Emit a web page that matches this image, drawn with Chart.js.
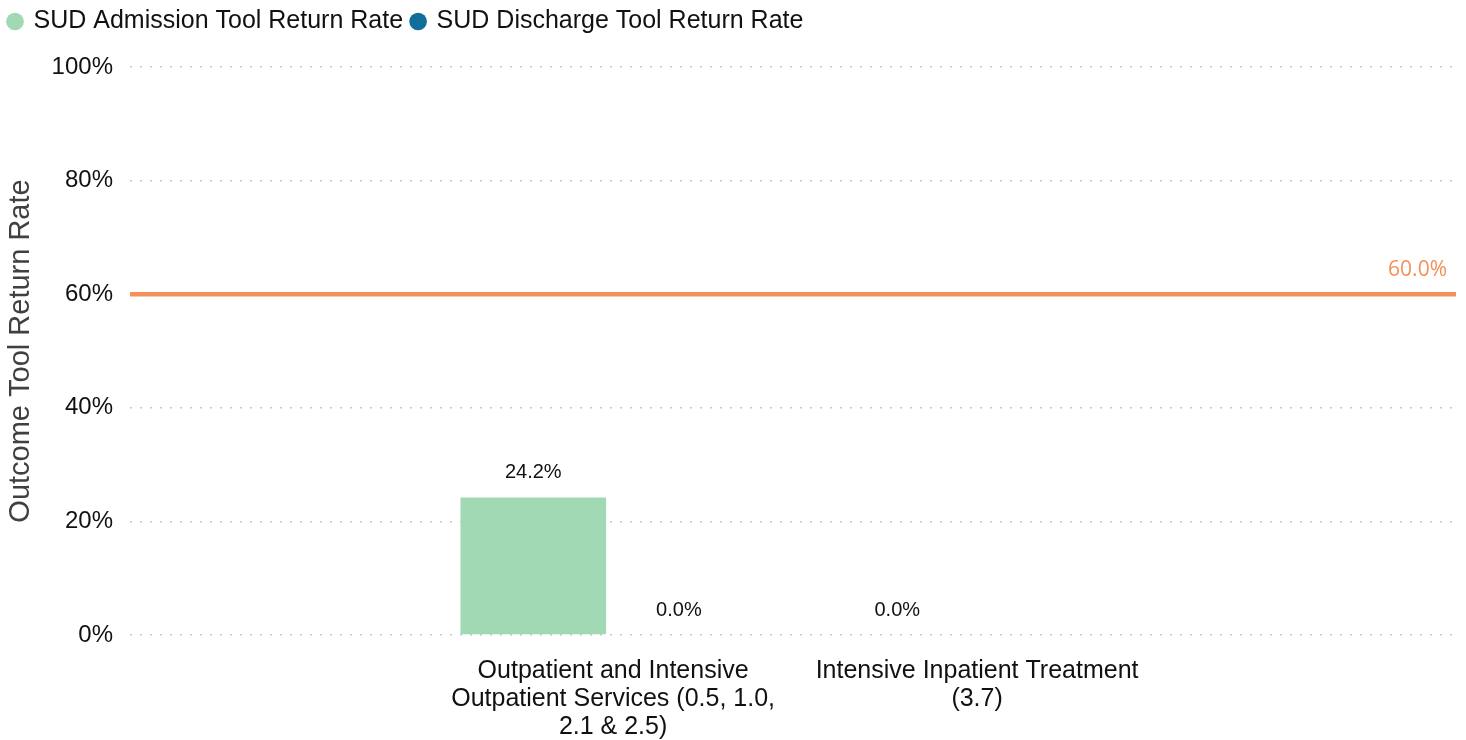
<!DOCTYPE html>
<html>
<head>
<meta charset="utf-8">
<script src="https://cdn.jsdelivr.net/npm/chart.js@4/dist/chart.umd.min.js"></script>
<style>
  html, body { margin: 0; padding: 0; background: #fff; }
  #wrap { width: 1466px; height: 740px; }
</style>
</head>
<body>
<div id="wrap"><canvas id="chart"></canvas></div>
<script>
const categories = [
  ['Outpatient and Intensive', 'Outpatient Services (0.5, 1.0,', '2.1 & 2.5)'],
  ['Intensive Inpatient Treatment', '(3.7)']
];
const admissionRates = [24.2, 0.0];
const dischargeRates = [0.0, null];
const targetRate = 60;
const yTicks = [0, 20, 40, 60, 80, 100];

const FONT = "'Liberation Sans', Arial, sans-serif";

// categories sit at x = 0, 1 on a linear axis so the pair can be centred in the plot
const toPoints = (arr) => arr.map((v, i) => ({ x: i, y: v }));

// value labels above each bar
const valueLabels = {
  id: 'valueLabels',
  afterDatasetsDraw(chart) {
    const ctx = chart.ctx;
    ctx.save();
    ctx.font = '20px ' + FONT;
    ctx.fillStyle = '#111';
    ctx.textAlign = 'center';
    ctx.textBaseline = 'middle';
    chart.data.datasets.forEach((ds, di) => {
      const meta = chart.getDatasetMeta(di);
      meta.data.forEach((bar, i) => {
        const v = ds.data[i].y;
        if (v === null || v === undefined) return;
        ctx.fillText(v.toFixed(1) + '%', bar.x, bar.y - 25);
      });
    });
    ctx.restore();
  }
};

// target line across the plot
const targetLine = {
  id: 'targetLine',
  afterDatasetsDraw(chart) {
    const { ctx, chartArea, scales } = chart;
    const y = scales.y.getPixelForValue(targetRate);
    ctx.save();
    ctx.strokeStyle = '#F4905A';
    ctx.lineWidth = 4.5;
    ctx.beginPath();
    ctx.moveTo(chartArea.left, y);
    ctx.lineTo(chartArea.right, y);
    ctx.stroke();
    ctx.font = "21px 'Open Sans', sans-serif";
    ctx.fillStyle = '#F4905A';
    ctx.textAlign = 'right';
    ctx.textBaseline = 'middle';
    ctx.fillText(targetRate.toFixed(1) + '%', chartArea.right - 9, y - 24);
    ctx.restore();
  }
};

const legendGap = {
  id: 'legendGap',
  beforeInit(chart) {
    const fit = chart.legend.fit;
    chart.legend.fit = function () {
      fit.bind(chart.legend)();
      this.height += 23;
    };
  }
};

new Chart(document.getElementById('chart'), {
  type: 'bar',
  data: {
    datasets: [
      {
        label: 'SUD Admission Tool Return Rate',
        data: toPoints(admissionRates),
        backgroundColor: '#A0D9B4'
      },
      {
        label: 'SUD Discharge Tool Return Rate',
        data: toPoints(dischargeRates),
        backgroundColor: '#116E99'
      }
    ]
  },
  options: {
    responsive: true,
    maintainAspectRatio: false,
    animation: false,
    categoryPercentage: 0.8,
    barPercentage: 1.0,
    layout: { padding: { left: 0, right: 10, top: 0, bottom: 0 } },
    scales: {
      x: {
        type: 'linear',
        min: -1.308,
        max: 2.335,
        offset: false,
        grid: { display: false },
        border: { display: false },
        afterBuildTicks: (axis) => { axis.ticks = categories.map((c, i) => ({ value: i })); },
        afterFit: (axis) => { axis.height = 105; },
        ticks: {
          autoSkip: false,
          maxRotation: 0,
          padding: 14,
          labelOffset: 7,
          color: '#111',
          font: { family: FONT, size: 25, lineHeight: 1.12 },
          callback: (value) => categories[value] || ''
        }
      },
      y: {
        min: 0,
        max: 100,
        afterBuildTicks: (axis) => { axis.ticks = yTicks.map(v => ({ value: v })); },
        afterFit: (axis) => { axis.width = 130; },
        border: { display: false, dash: [2, 8] },
        grid: {
          color: '#C8C8C8',
          lineWidth: 1.5,
          drawTicks: false
        },
        ticks: {
          padding: 17,
          color: '#111',
          font: { family: FONT, size: 24 },
          callback: (v) => v + '%'
        },
        title: {
          display: true,
          text: 'Outcome Tool Return Rate',
          color: '#404040',
          font: { family: FONT, size: 29 },
          padding: { top: 4, bottom: 0 }
        }
      }
    },
    plugins: {
      legend: {
        position: 'top',
        align: 'start',
        labels: {
          usePointStyle: true,
          pointStyle: 'circle',
          boxWidth: 12,
          boxHeight: 12.5,
          padding: 9,
          color: '#111',
          font: { family: FONT, size: 25 }
        }
      },
      tooltip: { enabled: false }
    }
  },
  plugins: [legendGap, valueLabels, targetLine]
});
</script>
</body>
</html>
